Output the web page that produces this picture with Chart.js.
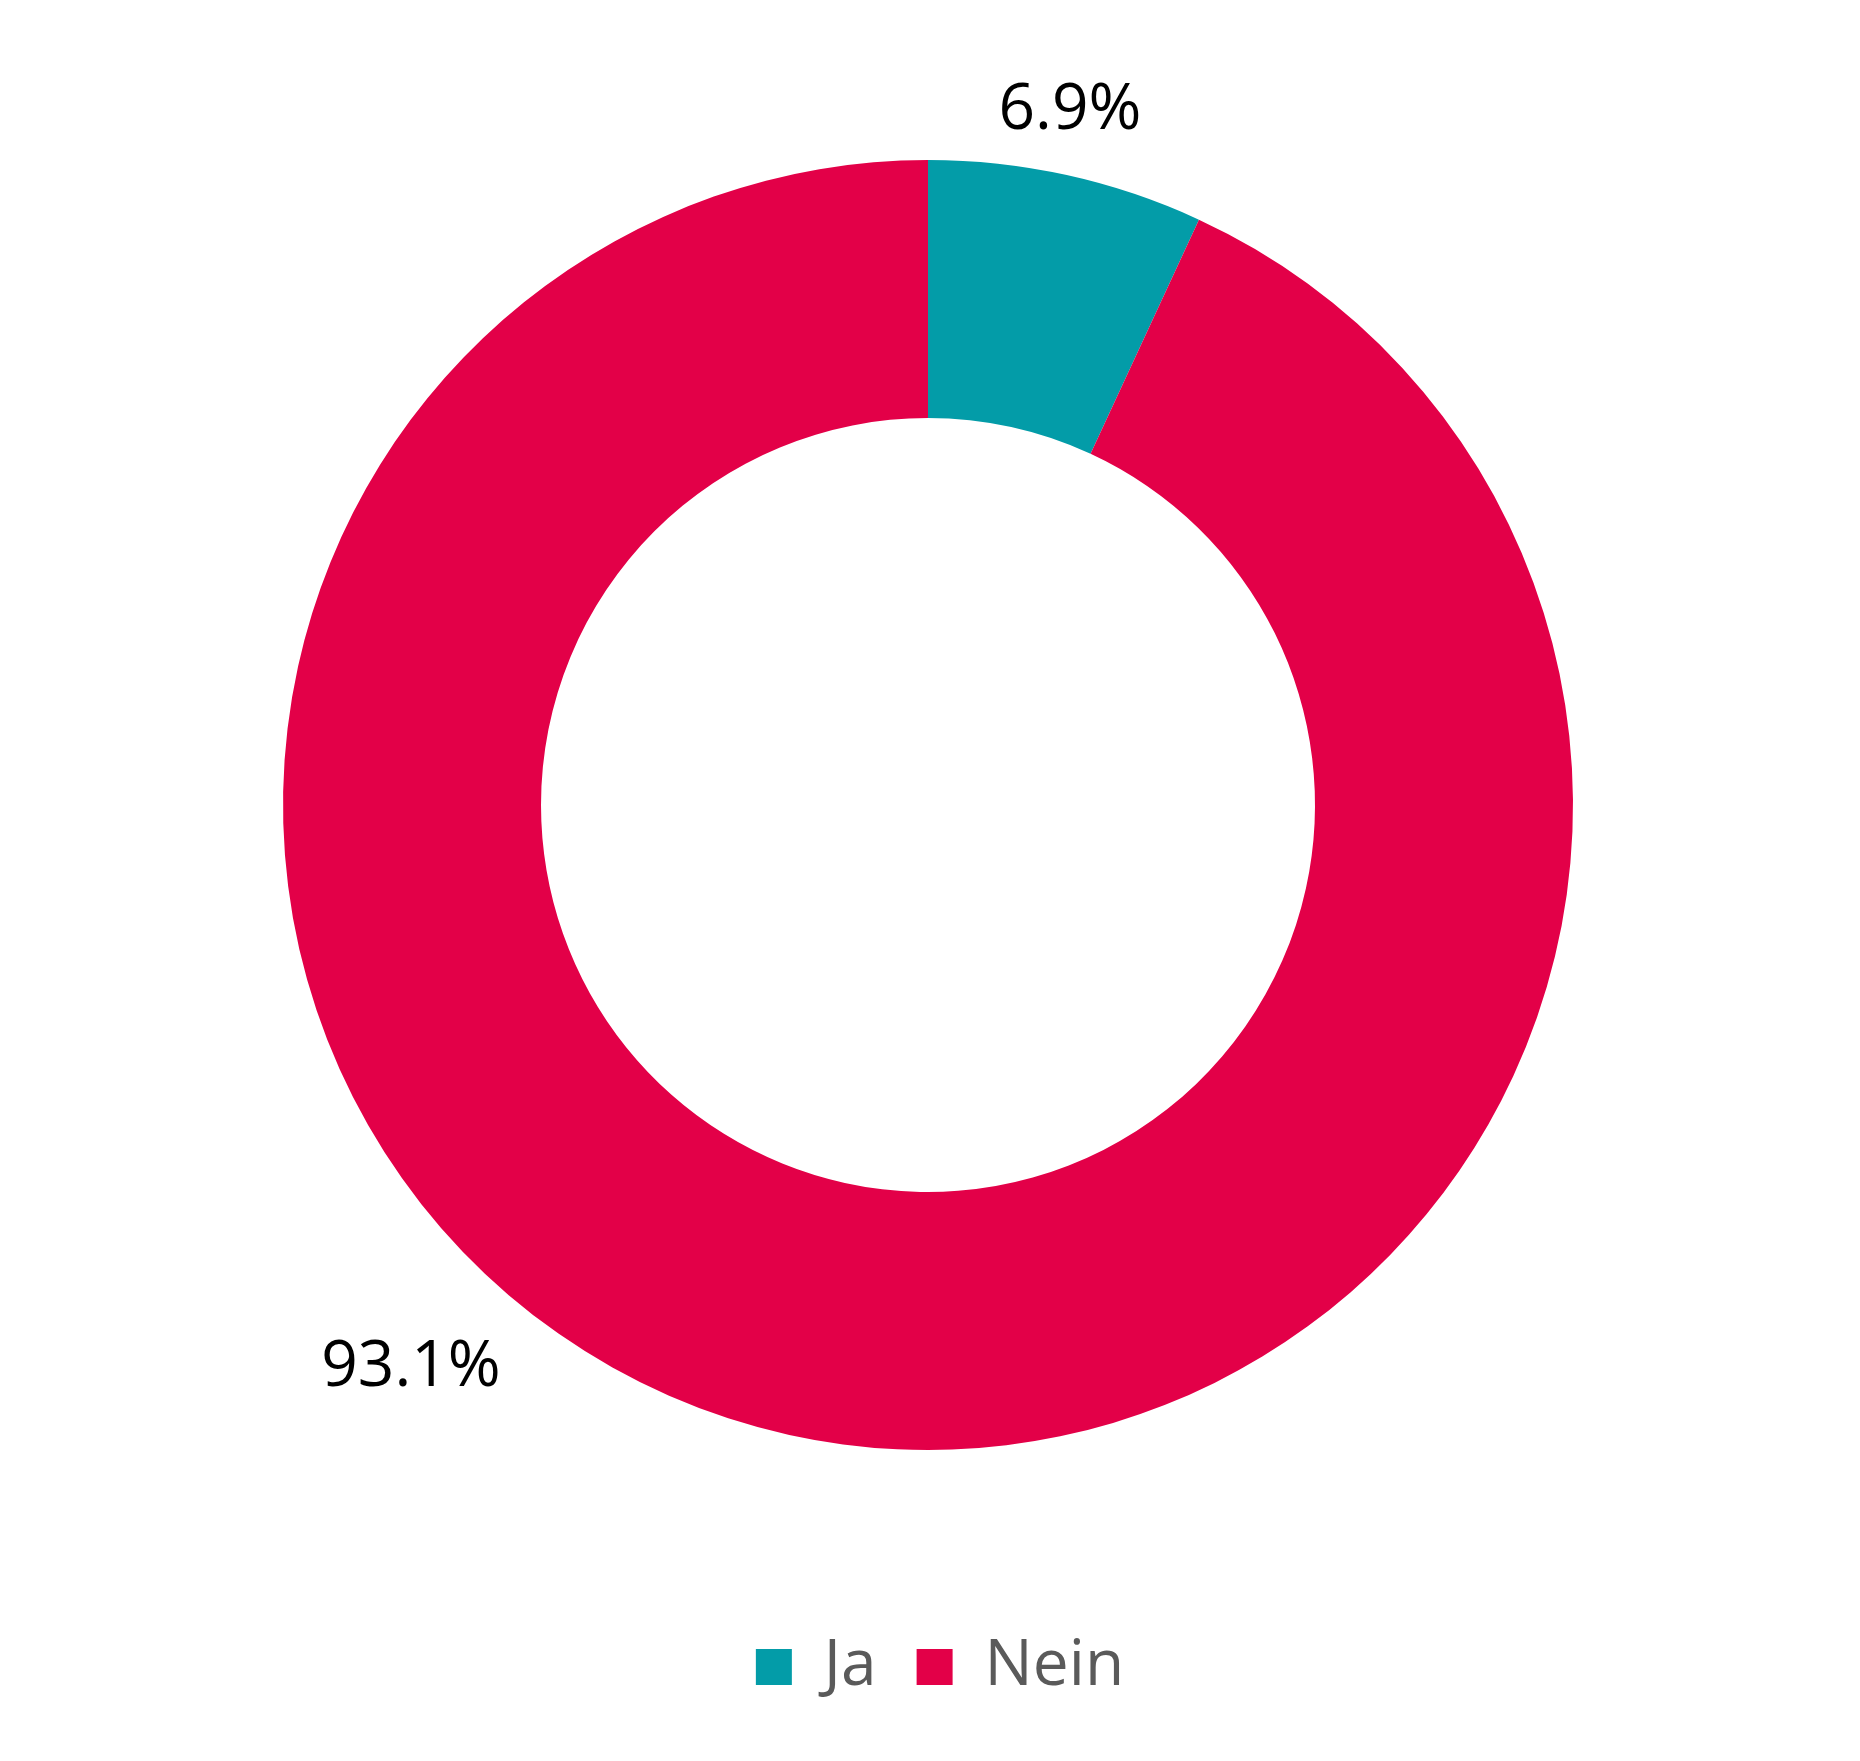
<!DOCTYPE html>
<html>
<head>
<meta charset="utf-8">
<script src="https://cdn.jsdelivr.net/npm/chart.js@4/dist/chart.umd.min.js"></script>
<style>
  html, body { margin: 0; padding: 0; background: #ffffff; }
  #wrap { width: 1860px; height: 1761px; }
</style>
</head>
<body>
<div id="wrap"><canvas id="c" width="1860" height="1761"></canvas></div>
<script>
const categories = ['Ja', 'Nein'];
const values = [6.9, 93.1];
const valueLabels = ['6.9%', '93.1%'];
const colors = ['#039ca8', '#e30048'];

// label placement: fraction along the arc, and distance beyond outer radius
const labelPlacement = [
  { frac: 0.465, extra: 64 },
  { frac: 0.59, extra: 119 }
];

const FONT = "'Open Sans', 'Noto Sans', sans-serif";
const LEGEND_HEIGHT = 311;
const LEGEND_SHIFT_X = 12;

const legendHeightFix = {
  id: 'legendHeightFix',
  beforeInit(chart) {
    const legend = chart.legend;
    const origFit = legend.fit;
    legend.fit = function () {
      origFit.call(this);
      this.height = LEGEND_HEIGHT;
    };
  },
  afterLayout(chart) {
    chart.legend.left += LEGEND_SHIFT_X;
    chart.legend.right += LEGEND_SHIFT_X;
  }
};

const outsideLabels = {
  id: 'outsideLabels',
  afterDatasetsDraw(chart) {
    const ctx = chart.ctx;
    const meta = chart.getDatasetMeta(0);
    ctx.save();
    ctx.font = '400 64px ' + FONT;
    ctx.fillStyle = '#000000';
    ctx.textAlign = 'center';
    ctx.textBaseline = 'middle';
    meta.data.forEach((arc, i) => {
      const p = arc.getProps(['x', 'y', 'startAngle', 'endAngle', 'outerRadius'], true);
      const pl = labelPlacement[i];
      const a = p.startAngle + (p.endAngle - p.startAngle) * pl.frac;
      const r = p.outerRadius + pl.extra;
      ctx.fillText(valueLabels[i], p.x + Math.cos(a) * r, p.y + Math.sin(a) * r);
    });
    ctx.restore();
  }
};

new Chart(document.getElementById('c'), {
  type: 'doughnut',
  data: {
    labels: categories,
    datasets: [{
      data: values,
      backgroundColor: colors,
      borderWidth: 0,
      hoverOffset: 0
    }]
  },
  options: {
    responsive: false,
    animation: false,
    cutout: '60%',
    layout: { padding: { top: 160, bottom: 0, left: 0, right: 4 } },
    plugins: {
      tooltip: { enabled: false },
      legend: {
        position: 'bottom',
        title: { display: true, text: ' ', font: { size: 10 }, padding: { top: 0, bottom: 133 } },
        labels: {
          boxWidth: 36,
          boxHeight: 36,
          padding: 40,
          color: '#5a5a5a',
          font: { family: FONT, size: 64, weight: '400' }
        }
      }
    }
  },
  plugins: [legendHeightFix, outsideLabels]
});
</script>
</body>
</html>
